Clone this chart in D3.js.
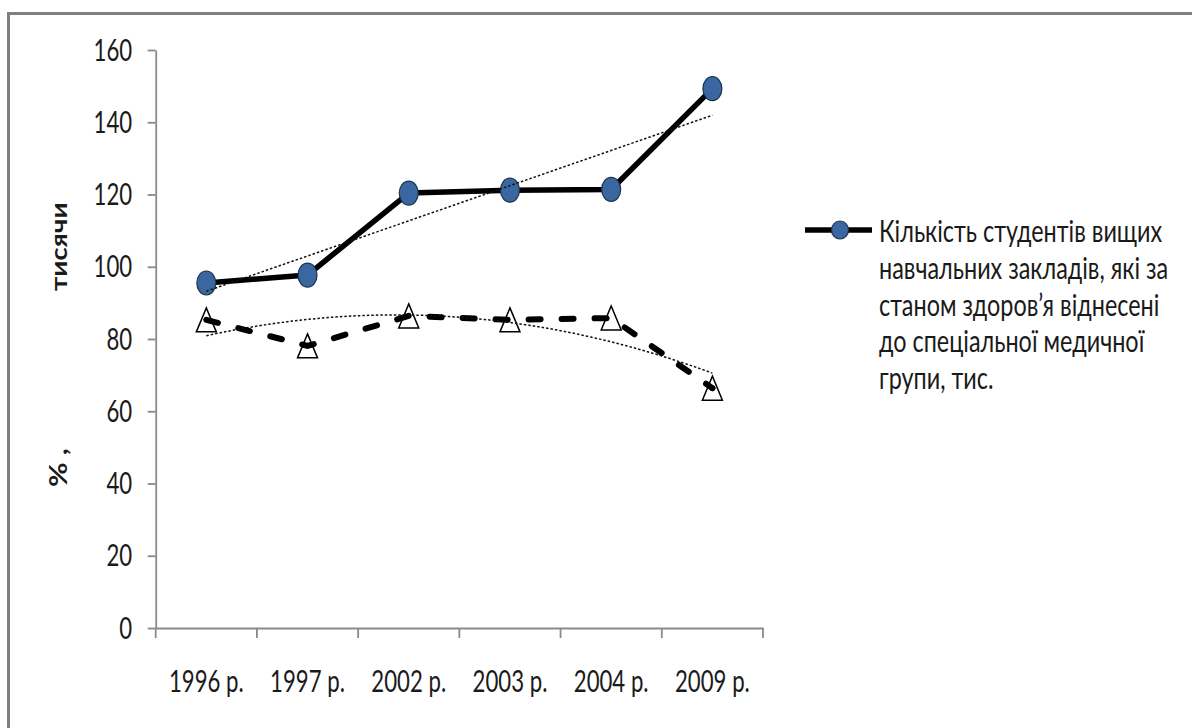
<!DOCTYPE html>
<html>
<head>
<meta charset="utf-8">
<script src="https://cdn.jsdelivr.net/npm/d3@7"></script>
<style>
  html, body { margin: 0; padding: 0; background: #fff; }
  svg { display: block; }
  text { font-family: Lato, "Liberation Sans", Arial, sans-serif; fill: #1a1a1a; }
</style>
</head>
<body>
<svg id="chart" width="1192" height="728"></svg>
<script>
// Years on the category axis
const years = ["1996 р.", "1997 р.", "2002 р.", "2003 р.", "2004 р.", "2009 р."];
// Students of higher educational institutions assigned to the special medical group, thousands
const students = [95.5, 97.7, 120.4, 121.2, 121.4, 149.3];
// Second series (dashed line with triangle markers)
const secondSeries = [85.3, 78.1, 86.4, 85.3, 85.8, 66.4];
// Value axis ticks
const yTicks = [0, 20, 40, 60, 80, 100, 120, 140, 160];
const legendLines = [
  "Кількість студентів вищих",
  "навчальних закладів, які за",
  "станом здоров’я віднесені",
  "до спеціальної медичної",
  "групи, тис."
];

const svg = d3.select("#chart");
const FONT = "Lato, Liberation Sans, Arial, sans-serif";
const SX = 0.74;   // horizontal squeeze of the axis lettering
const SXL = 0.78;  // horizontal squeeze of the legend lettering

// outer frame
svg.append("rect")
  .attr("x", 8.5).attr("y", 13.5)
  .attr("width", 1300).attr("height", 1000)
  .attr("fill", "none").attr("stroke", "#7f7f7f").attr("stroke-width", 3);

const x = d3.scaleBand().domain(years).range([155.7, 763]).padding(0);
const y = d3.scaleLinear().domain([0, 160]).range([628, 50]);
const cx = d => x(d) + x.bandwidth() / 2;

const axisColor = "#8a8a8a";

// value axis
const gy = svg.append("g").attr("transform", `translate(${x.range()[0]},0)`)
  .call(d3.axisLeft(y).tickValues(yTicks).tickSize(8).tickSizeOuter(0).tickPadding(0));
gy.select(".domain").attr("stroke", axisColor).attr("stroke-width", 1.8);
gy.selectAll(".tick line").attr("stroke", axisColor).attr("stroke-width", 1.8);
gy.selectAll(".tick text")
  .attr("font-size", 30).attr("font-family", FONT)
  .attr("fill", "#1a1a1a")
  .attr("x", -23.5 / SX).attr("dy", "0.34em")
  .attr("transform", `scale(${SX},1)`);

// category axis: labels centred in each band, ticks on band edges
const gx = svg.append("g").attr("transform", `translate(0,${y(0)})`)
  .call(d3.axisBottom(x).tickSize(0).tickSizeOuter(0).tickPadding(0));
gx.select(".domain").attr("stroke", axisColor).attr("stroke-width", 1.8);
gx.selectAll(".tick text")
  .attr("font-size", 30).attr("font-family", FONT)
  .attr("fill", "#1a1a1a")
  .attr("y", 43).attr("dy", "0.71em")
  .attr("transform", `scale(${SX},1)`);
const edges = years.map(d => x(d)).concat([x.range()[1]]);
gx.selectAll("line.edge").data(edges).join("line")
  .attr("class", "edge")
  .attr("x1", d => d).attr("x2", d => d)
  .attr("y1", 0).attr("y2", 10)
  .attr("stroke", axisColor).attr("stroke-width", 1.8);

// axis title
svg.append("text")
  .attr("transform", "translate(67,291) rotate(-90) scale(1.26,1)")
  .attr("font-family", "Liberation Sans, Arial, sans-serif")
  .attr("font-size", 22).attr("font-weight", "bold")
  .text("тисячи");
svg.append("text")
  .attr("transform", "translate(67,487) rotate(-90) scale(1.2,1)")
  .attr("font-family", "Liberation Sans, Arial, sans-serif")
  .attr("font-size", 25).attr("font-weight", "bold")
  .text("% ,");

const line = d3.line().x((d, i) => cx(years[i])).y(d => y(d));

// first series
svg.append("path").datum(students)
  .attr("d", line).attr("fill", "none")
  .attr("stroke", "#000").attr("stroke-width", 5.5).attr("stroke-linejoin", "round");
svg.selectAll("ellipse.s1").data(students).join("ellipse")
  .attr("class", "s1")
  .attr("cx", (d, i) => cx(years[i])).attr("cy", d => y(d))
  .attr("rx", 9.5).attr("ry", 12)
  .attr("fill", "#3a679f").attr("stroke", "#1c3350").attr("stroke-width", 1.2);

// second series: triangle markers under a dashed line
const triW = 20, triH = 24;
svg.selectAll("path.tri").data(secondSeries).join("path")
  .attr("class", "tri")
  .attr("transform", (d, i) => `translate(${cx(years[i])},${y(d)})`)
  .attr("d", `M0,${-triH / 2}L${triW / 2},${triH / 2}L${-triW / 2},${triH / 2}Z`)
  .attr("fill", "#fff").attr("stroke", "#000").attr("stroke-width", 1.5);
svg.append("path").datum(secondSeries)
  .attr("d", line).attr("fill", "none")
  .attr("stroke", "#000").attr("stroke-width", 6)
  .attr("stroke-dasharray", "12,21").attr("stroke-linecap", "round");
svg.append("circle")
  .attr("cx", cx(years[5])).attr("cy", y(secondSeries[5]))
  .attr("r", 3).attr("fill", "#000");

// trend lines (least squares): linear for the first series, quadratic for the second
const xs = years.map((d, i) => i + 1);
function linearFit(vals) {
  const mx = d3.mean(xs), my = d3.mean(vals);
  const b = d3.sum(xs, (t, i) => (t - mx) * (vals[i] - my)) / d3.sum(xs, t => (t - mx) ** 2);
  return t => my + b * (t - mx);
}
function quadFit(vals) {
  const mx = d3.mean(xs), my = d3.mean(vals);
  const t = xs.map(v => v - mx);
  const mt2 = d3.mean(t, v => v * v);
  const u = t.map(v => v * v - mt2);
  const b = d3.sum(t, (v, i) => v * vals[i]) / d3.sum(t, v => v * v);
  const c = d3.sum(u, (v, i) => v * vals[i]) / d3.sum(u, v => v * v);
  return k => my + b * (k - mx) + c * ((k - mx) ** 2 - mt2);
}
const kx = d3.scaleLinear().domain([1, 6]).range([cx(years[0]), cx(years[5])]);
[linearFit(students), quadFit(secondSeries)].forEach(f => {
  const pts = d3.range(0, 101).map(j => 1 + 5 * j / 100);
  svg.append("path").datum(pts)
    .attr("d", d3.line().x(k => kx(k)).y(k => y(f(k))))
    .attr("fill", "none").attr("stroke", "#111").attr("stroke-width", 1.5)
    .attr("stroke-dasharray", "2.5,2");
});

// legend
const lg = svg.append("g");
lg.append("line").attr("x1", 805).attr("x2", 872).attr("y1", 230).attr("y2", 230)
  .attr("stroke", "#000").attr("stroke-width", 5.5);
lg.append("ellipse").attr("cx", 840).attr("cy", 230).attr("rx", 8.5).attr("ry", 9)
  .attr("fill", "#3a679f").attr("stroke", "#1c3350").attr("stroke-width", 1.2);
lg.selectAll("text").data(legendLines).join("text")
  .attr("transform", (d, i) => `translate(879,${242 + i * 36.8}) scale(${SXL},1)`)
  .attr("font-family", FONT)
  .attr("font-size", 30)
  .text(d => d);
</script>
</body>
</html>
